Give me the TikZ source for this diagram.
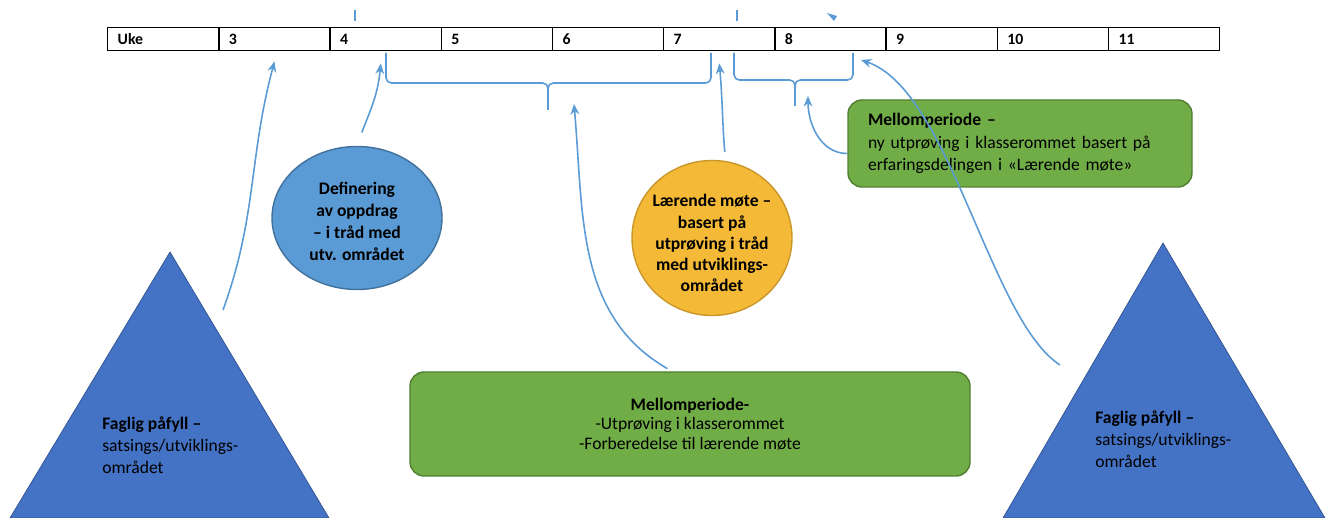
\documentclass[tikz,border=0pt]{standalone}
\usepackage{fontspec}
\setmainfont{Carlito}
\usetikzlibrary{shapes.geometric,arrows.meta}
\definecolor{linkblue}{HTML}{5B9BD5}
\definecolor{circblue}{HTML}{5B9BD5}
\definecolor{circline}{HTML}{41719C}
\definecolor{moteyellow}{HTML}{F4B936}
\definecolor{moteline}{HTML}{C9972C}
\definecolor{boxgreen}{HTML}{70AD47}
\definecolor{boxline}{HTML}{507E32}
\definecolor{triblue}{HTML}{4472C4}
\definecolor{triline}{HTML}{2F528F}
\tikzset{
  cell/.style={draw, line width=0.8pt, anchor=north west, minimum height=0.46cm,
    inner xsep=0.2cm, inner ysep=0pt, text width=1.824cm, align=left,
    font=\bfseries\fontsize{9}{11}\selectfont},
  link/.style={draw=linkblue, line width=0.9pt, -{Stealth[length=6pt,width=5pt]}},
  brace/.style={draw=linkblue, line width=0.9pt, rounded corners=3pt},
  greenbox/.style={fill=boxgreen, draw=boxline, line width=0.8pt, rounded corners=8pt}
}
\begin{document}
\begin{tikzpicture}[x=0.2mm, y=0.2mm, every node/.style={font=\fontsize{9.8}{12}\selectfont}]
  \useasboundingbox (0,0) rectangle (1328,-518);
  % week table
  \foreach \lbl [count=\i from 0] in {Uke,3,4,5,6,7,8,9,10,11}
    \node [cell] (c\i) at ({107+111.2*\i},-27) {\lbl};
  \draw [linkblue, line width=0.9pt] (355,-10) -- (355,-21);
  \draw [linkblue, line width=0.9pt] (737,-10) -- (737,-21);
  \fill [linkblue] (827,-13) -- (837,-16) -- (834,-21) -- cycle;
  % braces
  \draw [brace] (386,-53) -- (386,-83) -- (548,-83) -- (548,-110);
  \draw [brace] (711,-53) -- (711,-83) -- (548,-83) -- (548,-110);
  \draw [brace] (734,-53) -- (734,-80) -- (795,-80) -- (795,-106);
  \draw [brace] (853,-53) -- (853,-80) -- (795,-80) -- (795,-106);
  % triangles
  \fill [triblue, draw=triline] (170,-252) -- (329,-518) -- (10,-518) -- cycle;
  \fill [triblue, draw=triline] (1163,-243) -- (1325,-518) -- (1003,-518) -- cycle;
  \node [anchor=west, align=left, inner sep=0pt, font=\fontsize{10}{12.5}\selectfont] (fp1) at (102,-445)
    {\textbf{Faglig påfyll –}\\satsings/utviklings-\\området};
  \node [anchor=west, align=left, inner sep=0pt, font=\fontsize{10}{12.5}\selectfont] (fp2) at (1095,-439)
    {\textbf{Faglig påfyll –}\\satsings/utviklings-\\området};
  % circles
  \node [ellipse, fill=circblue, draw=circline, line width=0.8pt, minimum width=3.4cm, minimum height=2.86cm] (oppdrag) at (357,-218) {};
  \node [align=center, font=\bfseries\fontsize{10}{12.5}\selectfont] at (357,-221) {Definering\\av oppdrag\\– i tråd med\\utv. området};
  \node [ellipse, fill=moteyellow, draw=moteline, line width=0.8pt, minimum width=3.2cm, minimum height=3.1cm] (mote) at (712,-238) {};
  \node [align=center, font=\bfseries\fontsize{10}{12}\selectfont] at (712,-243) {Lærende møte –\\basert på\\utprøving i tråd\\med utviklings-\\området};
  % boxes
  \node [greenbox, minimum width=6.88cm, minimum height=1.74cm, inner xsep=0.4cm, text width=6.08cm, align=left,
    font=\fontsize{10}{12.7}\selectfont] (mtop) at (1020,-143.5)
    {\textbf{Mellomperiode –}\\ny utprøving i klasserommet basert på\\erfaringsdelingen i «Lærende møte»};
  \node [greenbox, minimum width=11.2cm, minimum height=2.08cm, align=center, font=\fontsize{10}{11.2}\selectfont] (mid) at (690,-424)
    {\textbf{Mellomperiode-}\\-Utprøving i klasserommet\\-Forberedelse til lærende møte};
  % arrow ends
  \coordinate (s1) at (223,-310);
  \coordinate (s6) at (1060,-365);
  \coordinate (t3) at (574,-104);
  \coordinate (t5) at (808,-96);
  \coordinate (t6) at (861,-60);
  % arrows
  \draw [link] (s1) to[out=70, in=255] ([yshift=-2mm]c1.south);
  \draw [link, shorten <=8pt] (oppdrag.north) to[out=70, in=265] ([xshift=-1mm, yshift=-2.4mm]c2.south);
  \draw [link, shorten <=3pt] ([xshift=-3.6mm]mid.north) to[out=150, in=275] (t3);
  \draw [link, shorten <=5pt] (mote.80) to[out=95, in=275] ([yshift=-2.4mm]c5.south);
  \draw [link] ([yshift=-2mm]mtop.west) to[out=180, in=270] (t5);
  \draw [link] (s6) .. controls (990,-320) and (950,-90) .. (t6);
\end{tikzpicture}
\end{document}
